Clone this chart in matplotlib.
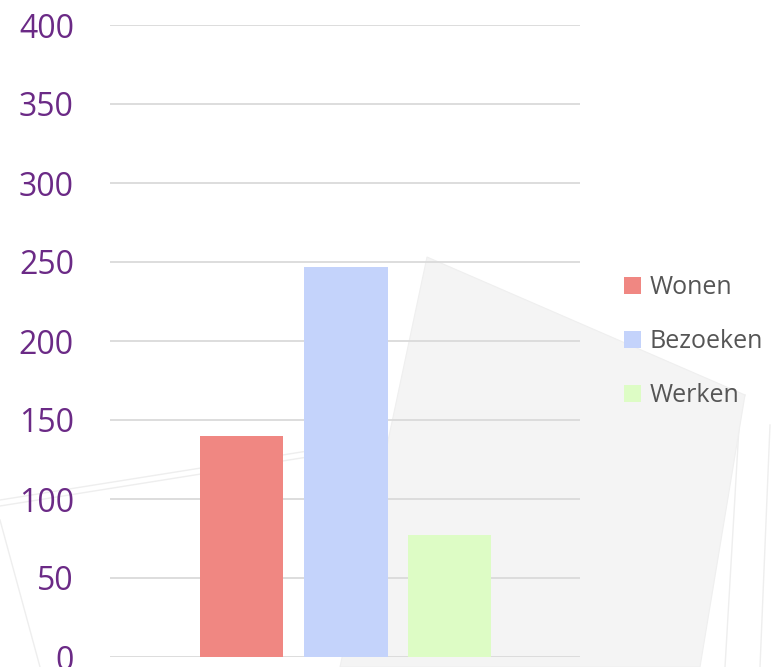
import matplotlib
matplotlib.use("Agg")
import matplotlib.pyplot as plt
from matplotlib.patches import Polygon

# data
labels = ["Wonen", "Bezoeken", "Werken"]
values = [140, 247, 77]
colors = ["#f08782", "#c4d3fb", "#ddfcc5"]
yticks = [0, 50, 100, 150, 200, 250, 300, 350, 400]

W, H = 772, 667
fig = plt.figure(figsize=(W / 100, H / 100), dpi=100)

def px(x, y):
    return (x / W, 1 - y / H)

# faint decorative background shapes
bg = [
    [(427, 257), (745, 395), (700, 667), (340, 667)],
]
for poly in bg:
    fig.patches.append(Polygon([px(*p) for p in poly], closed=True,
                               transform=fig.transFigure, facecolor="#f4f4f4",
                               edgecolor="#efefef", lw=0.8, zorder=-5))
for a, b in [((745, 395), (640, 667)), ((770, 425), (760, 667)),
             ((0, 500), (427, 432)), ((0, 506), (427, 438)),
             ((0, 520), (40, 667)), ((740, 410), (725, 667))]:
    fig.add_artist(plt.Line2D([px(*a)[0], px(*b)[0]], [px(*a)[1], px(*b)[1]],
                              transform=fig.transFigure, color="#eeeeee", lw=1.0, zorder=-5))

ax = fig.add_axes([110 / W, 10 / H, 470 / W, 632 / H])
ax.set_zorder(1)
ax.patch.set_alpha(0)

centers = [0.28, 0.502, 0.723]
bars = []
for c, v, col, lab in zip(centers, values, colors, labels):
    bars.append(ax.bar(c, v, width=0.177, color=col, label=lab, zorder=2))

ax.set_xlim(0, 1)
ax.set_ylim(0, 400)
ax.set_yticks(yticks)
ax.set_xticks([])
ax.yaxis.grid(True, color="#dadada", lw=1.3, zorder=1)
ax.set_axisbelow(True)
for s in ax.spines.values():
    s.set_visible(False)
ax.tick_params(axis="y", length=0, pad=26, labelsize=23, labelcolor="#6b2a86")
for t in ax.get_yticklabels():
    t.set_fontfamily("Open Sans")

leg = fig.legend(handles=[b[0] for b in bars], labels=labels,
                 loc="upper left", bbox_to_anchor=(611 / W, 1 - 263 / H),
                 frameon=False, borderpad=0, handlelength=0.7, handleheight=0.7,
                 handletextpad=0.35, labelspacing=1.16,
                 prop={"family": "Open Sans", "size": 18})
for t in leg.get_texts():
    t.set_color("#555555")

fig.savefig("out.png", dpi=100)
